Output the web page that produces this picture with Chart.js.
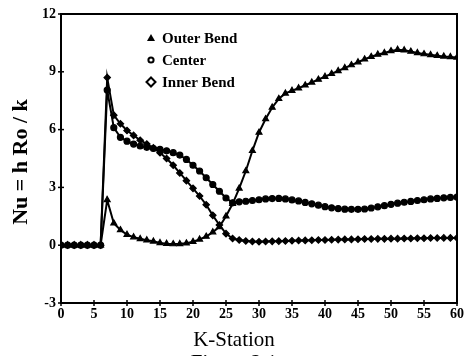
<!DOCTYPE html>
<html>
<head>
<meta charset="utf-8">
<script src="https://cdn.jsdelivr.net/npm/chart.js@4/dist/chart.umd.min.js"></script>
<style>
  html, body { margin: 0; padding: 0; background: #fff; }
  #wrap { width: 467px; height: 356px; position: relative; }
</style>
</head>
<body>
<div id="wrap"><canvas id="chart"></canvas></div>
<script>
/* ── Data ── */
const stations = [0, 1, 2, 3, 4, 5, 6, 7, 8, 9, 10, 11, 12, 13, 14, 15, 16, 17, 18, 19, 20,
  21, 22, 23, 24, 25, 26, 27, 28, 29, 30, 31, 32, 33, 34, 35, 36, 37, 38, 39, 40,
  41, 42, 43, 44, 45, 46, 47, 48, 49, 50, 51, 52, 53, 54, 55, 56, 57, 58, 59, 60];

const outerBend = [0, 0, 0, 0, 0, 0, 0, 2.35, 1.14, 0.79, 0.55, 0.42, 0.33, 0.26, 0.2, 0.12,
  0.08, 0.06, 0.07, 0.1, 0.18, 0.3, 0.45, 0.68, 0.95, 1.5, 2.15, 2.95, 3.85, 4.9, 5.85,
  6.55, 7.15, 7.6, 7.88, 8.02, 8.15, 8.3, 8.45, 8.6, 8.75, 8.9, 9.05, 9.2, 9.35, 9.5,
  9.65, 9.78, 9.9, 9.98, 10.08, 10.15, 10.12, 10.05, 9.98, 9.92, 9.88, 9.83, 9.8, 9.77, 9.75];

const center = [0, 0, 0, 0, 0, 0, 0, 8.05, 6.1, 5.6, 5.4, 5.25, 5.15, 5.08, 5.02, 4.97,
  4.9, 4.8, 4.68, 4.45, 4.15, 3.85, 3.5, 3.15, 2.8, 2.45, 2.2, 2.25, 2.28, 2.32, 2.36,
  2.4, 2.42, 2.43, 2.4, 2.35, 2.3, 2.22, 2.15, 2.08, 2.0, 1.94, 1.9, 1.87, 1.86, 1.86,
  1.88, 1.93, 1.99, 2.05, 2.12, 2.18, 2.23, 2.27, 2.32, 2.36, 2.4, 2.43, 2.46, 2.48, 2.5];

const innerBend = [0, 0, 0, 0, 0, 0, 0, 8.7, 6.75, 6.3, 5.95, 5.7, 5.45, 5.25, 5.05, 4.8,
  4.5, 4.15, 3.75, 3.35, 2.95, 2.55, 2.1, 1.55, 1.05, 0.6, 0.35, 0.27, 0.22, 0.19, 0.18,
  0.19, 0.2, 0.21, 0.22, 0.23, 0.24, 0.25, 0.26, 0.27, 0.27, 0.28, 0.29, 0.3, 0.3, 0.31,
  0.32, 0.32, 0.33, 0.33, 0.34, 0.34, 0.35, 0.35, 0.36, 0.36, 0.37, 0.37, 0.38, 0.38, 0.38];

const seriesNames = ["Outer Bend", "Center", "Inner Bend"];
const xTicks = [0, 5, 10, 15, 20, 25, 30, 35, 40, 45, 50, 55, 60];
const yTicks = [-3, 0, 3, 6, 9, 12];

const SERIF = "'Liberation Serif', 'Times New Roman', serif";

function pts(vals) { return stations.map((k, i) => ({ x: k, y: vals[i] })); }

function series(label, vals, style, r) {
  return {
    label, data: pts(vals),
    borderColor: "#000", backgroundColor: "#000",
    borderWidth: 2, pointStyle: style, pointRadius: r,
    pointBorderWidth: 1.2, tension: 0
  };
}

/* ── Frame, tick crosses, titles and legend ── */
const decor = {
  id: "decor",
  afterDraw(chart) {
    const c = chart.ctx, a = chart.chartArea;
    const xs = chart.scales.x, ys = chart.scales.y;
    c.save();
    c.strokeStyle = "#000";
    c.lineWidth = 2;
    c.strokeRect(a.left, a.top, a.right - a.left, a.bottom - a.top);
    c.lineWidth = 1.5;
    yTicks.forEach(v => {
      const y = ys.getPixelForValue(v);
      c.beginPath(); c.moveTo(a.left - 3, y); c.lineTo(a.left + 3, y); c.stroke();
    });
    xTicks.forEach(v => {
      const x = xs.getPixelForValue(v);
      c.beginPath(); c.moveTo(x, a.bottom - 3); c.lineTo(x, a.bottom + 3); c.stroke();
    });

    // axis titles
    c.fillStyle = "#000";
    c.save();
    c.translate(21, 162);
    c.rotate(-Math.PI / 2);
    c.font = "bold 22px " + SERIF;
    c.textAlign = "center"; c.textBaseline = "middle";
    c.fillText("Nu = h Ro / k", 0, 0);
    c.restore();

    c.font = "21px " + SERIF;
    c.textAlign = "center"; c.textBaseline = "alphabetic";
    c.fillText("K-Station", 234, 346);
    c.textBaseline = "top";
    c.fillText("Figure 2.1", 234, 353);

    // legend
    const ly = [38, 60, 82];
    c.font = "bold 15px " + SERIF;
    c.textAlign = "left"; c.textBaseline = "middle";
    seriesNames.forEach((n, i) => c.fillText(n, 162, ly[i] + 1));
    const mx = 151;
    c.beginPath();
    c.moveTo(mx, ly[0] - 4); c.lineTo(mx + 4, ly[0] + 3); c.lineTo(mx - 4, ly[0] + 3);
    c.closePath(); c.fill();
    c.lineWidth = 2;
    c.beginPath(); c.arc(mx, ly[1], 2.6, 0, Math.PI * 2); c.stroke();
    c.beginPath();
    c.moveTo(mx, ly[2] - 4.5); c.lineTo(mx + 4.5, ly[2]); c.lineTo(mx, ly[2] + 4.5); c.lineTo(mx - 4.5, ly[2]);
    c.closePath(); c.stroke();
    c.restore();
  }
};

new Chart(document.getElementById("chart"), {
  type: "line",
  data: {
    datasets: [
      series(seriesNames[0], outerBend, "triangle", 3.4),
      series(seriesNames[1], center, "circle", 3),
      series(seriesNames[2], innerBend, "rectRot", 3.2)
    ]
  },
  options: {
    responsive: true,
    maintainAspectRatio: false,
    animation: false,
    layout: { padding: { top: 14, right: 7, left: 0, bottom: 0 } },
    plugins: { legend: { display: false }, tooltip: { enabled: false } },
    scales: {
      x: {
        type: "linear", min: 0, max: 60,
        afterFit: s => { s.height = 53; },
        afterBuildTicks: s => { s.ticks = xTicks.map(v => ({ value: v })); },
        grid: { display: false, drawTicks: false },
        border: { display: false },
        ticks: { padding: 3, color: "#000", maxRotation: 0, autoSkip: false,
                 font: { family: SERIF, size: 14, weight: "bold" } }
      },
      y: {
        min: -3, max: 12,
        afterFit: s => { s.width = 61; },
        afterBuildTicks: s => { s.ticks = yTicks.map(v => ({ value: v })); },
        grid: { display: false, drawTicks: false },
        border: { display: false },
        ticks: { padding: 5, color: "#000",
                 font: { family: SERIF, size: 14, weight: "bold" } }
      }
    }
  },
  plugins: [decor]
});
</script>
</body>
</html>
